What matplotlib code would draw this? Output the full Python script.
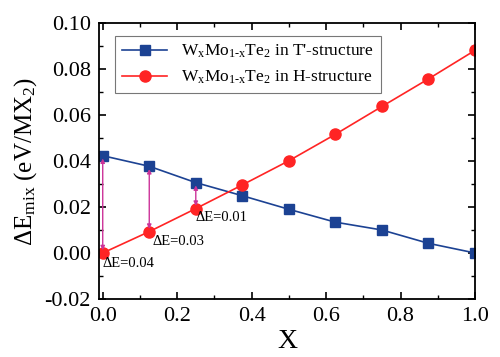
import matplotlib
matplotlib.use("Agg")
import matplotlib.pyplot as plt
from matplotlib.ticker import MultipleLocator

plt.rcParams['font.family'] = ['Liberation Serif', 'DejaVu Serif']
plt.rcParams['mathtext.fontset'] = 'custom'
plt.rcParams['mathtext.rm'] = 'Liberation Serif'
plt.rcParams['mathtext.it'] = 'Liberation Serif'

x = [0.0, 0.125, 0.25, 0.375, 0.5, 0.625, 0.75, 0.875, 1.0]
e_tprime = [0.0423, 0.0377, 0.0306, 0.0249, 0.0190, 0.0134, 0.0100, 0.0042, 0.0]
e_h = [0.0, 0.0093, 0.0193, 0.0296, 0.0401, 0.0516, 0.0637, 0.0757, 0.0881]
labels = [r"$\mathrm{W_xMo_{1\text{-}x}Te_2}$ in T'-structure",
          r"$\mathrm{W_xMo_{1\text{-}x}Te_2}$ in H-structure"]
delta_labels = ["ΔE=0.04", "ΔE=0.03", "ΔE=0.01"]
xticks = [0.0, 0.2, 0.4, 0.6, 0.8, 1.0]
yticks = [-0.02, 0.0, 0.02, 0.04, 0.06, 0.08, 0.10]

blue = "#1c4293"
red = "#ff2424"
mag = "#cc3399"

fig = plt.figure(figsize=(5, 3.57), dpi=100)
ax = fig.add_axes([0.198, 0.1625, 0.752, 0.7731])

ax.plot(x, e_tprime, '-s', color=blue, mfc=blue, mec=blue, ms=7, lw=1.2, label=labels[0])
ax.plot(x, e_h, '-o', color=red, mfc=red, mec=red, ms=8, lw=1.2, label=labels[1])

offsets = [(0.0, -0.0045), (0.01, -0.0045), (0.0, -0.0038)]
for i in range(3):
    xi = x[i]
    ax.annotate('', xy=(xi, e_h[i] + 0.0012), xytext=(xi, e_tprime[i] - 0.0012),
                arrowprops=dict(arrowstyle='<|-|>', color=mag, lw=1.0,
                                mutation_scale=6, shrinkA=0, shrinkB=0))
    dx, dy = offsets[i]
    ax.text(xi + dx, e_h[i] + dy, delta_labels[i], fontsize=10.5, ha='left', va='center')

ax.set_xlim(-0.01, 1.0)
ax.set_ylim(-0.02, 0.10)
ax.set_xticks(xticks)
ax.set_yticks(yticks)
ax.set_xticklabels([f"{t:.1f}" for t in xticks])
ax.set_yticklabels([f"{t:.2f}" for t in yticks])
ax.xaxis.set_minor_locator(MultipleLocator(0.1))
ax.yaxis.set_minor_locator(MultipleLocator(0.01))
ax.tick_params(which='both', direction='in', top=True, right=True, labelsize=16)
ax.tick_params(which='major', length=5, width=1.2, pad=6)
ax.tick_params(which='minor', length=3, width=1.0)
for s in ax.spines.values():
    s.set_linewidth(1.3)

ax.set_xlabel("X", fontsize=20, labelpad=2)
ax.set_ylabel(r"ΔE$_{\mathrm{mix}}$ (eV/MX$_2$)", fontsize=18, labelpad=4)

leg = ax.legend(loc='upper left', bbox_to_anchor=(0.02, 0.985), fontsize=12.5,
                frameon=True, fancybox=False, edgecolor='#555555',
                handlelength=2.6, borderpad=0.4, labelspacing=0.5)
leg.get_frame().set_linewidth(0.8)

fig.savefig("out.png", dpi=100)
